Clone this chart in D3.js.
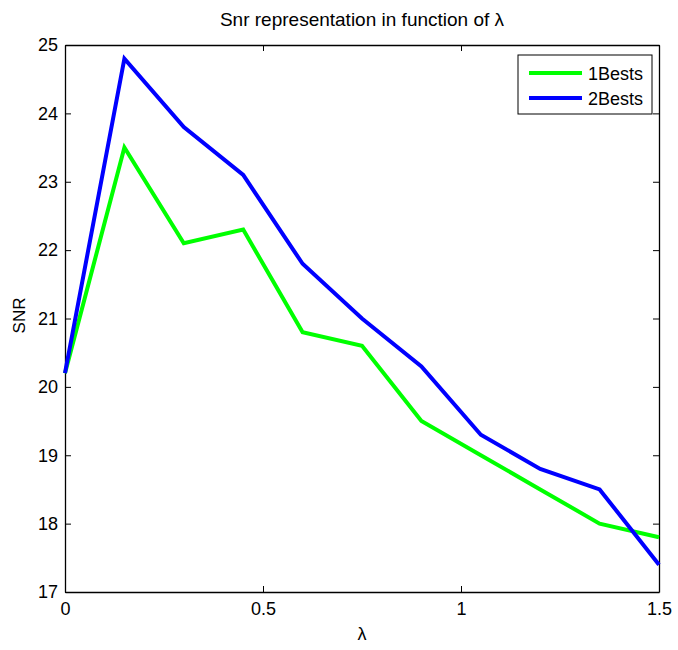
<!DOCTYPE html>
<html lang="en">
<head>
  <meta charset="UTF-8">
  <title>Snr representation</title>
  <script src="https://d3js.org/d3.v7.min.js"></script>
  <style>
    body { margin: 0; background: #fff; }
    text { font-family: "Liberation Sans", Arial, sans-serif; fill: #000; }
  </style>
</head>
<body>
  <div id="chart"></div>
  <script>
    // data
    const lambdas = [0, 0.15, 0.3, 0.45, 0.6, 0.75, 0.9, 1.05, 1.2, 1.35, 1.5];
    const best1 = [20.2, 23.5, 22.1, 22.3, 20.8, 20.6, 19.5, 19.0, 18.5, 18.0, 17.8];
    const best2 = [20.2, 24.8, 23.8, 23.1, 21.8, 21.0, 20.3, 19.3, 18.8, 18.5, 17.4];
    const seriesNames = ['1Bests', '2Bests'];
    const seriesColors = ['#00ff00', '#0000ff'];
    const xTicks = [0, 0.5, 1, 1.5];
    const yTicks = [17, 18, 19, 20, 21, 22, 23, 24, 25];

    const width = 678, height = 650;
    const margin = { top: 45, right: 19, bottom: 58, left: 65 };
    const w = width - margin.left - margin.right;
    const h = height - margin.top - margin.bottom;

    const svg = d3.select('#chart').append('svg')
      .attr('width', width)
      .attr('height', height);

    const g = svg.append('g').attr('transform', `translate(${margin.left},${margin.top})`);

    const x = d3.scaleLinear().domain([0, 1.5]).range([0, w]);
    const y = d3.scaleLinear().domain([17, 25]).range([h, 0]);

    // axes, MATLAB style: ticks inside on all four sides
    const tickLen = 6;
    g.append('g').attr('transform', `translate(0,${h})`)
      .call(d3.axisBottom(x).tickValues(xTicks).tickFormat(d3.format('')).tickSizeInner(-tickLen).tickSizeOuter(0).tickPadding(10));
    g.append('g')
      .call(d3.axisLeft(y).tickValues(yTicks).tickSizeInner(-tickLen).tickSizeOuter(0).tickPadding(7));
    g.append('g')
      .call(d3.axisTop(x).tickValues(xTicks).tickFormat('').tickSizeInner(-tickLen).tickSizeOuter(0));
    g.append('g').attr('transform', `translate(${w},0)`)
      .call(d3.axisRight(y).tickValues(yTicks).tickFormat('').tickSizeInner(-tickLen).tickSizeOuter(0));

    g.selectAll('.domain').attr('stroke', '#000').attr('stroke-width', 1.3);
    g.selectAll('.tick line').attr('stroke', '#000').attr('stroke-width', 1);
    g.selectAll('.tick text').attr('font-size', 18).attr('fill', '#000')
      .attr('font-family', '"Liberation Sans", Arial, sans-serif');

    // lines
    const line = d3.line().x((d, i) => x(lambdas[i])).y(d => y(d));
    [best1, best2].forEach((vals, k) => {
      g.append('path')
        .datum(vals)
        .attr('fill', 'none')
        .attr('stroke', seriesColors[k])
        .attr('stroke-width', 4)
        .attr('stroke-linejoin', 'miter')
        .attr('d', line);
    });

    // title and labels
    svg.append('text')
      .attr('x', margin.left + w / 2)
      .attr('y', 26)
      .attr('text-anchor', 'middle')
      .attr('font-size', 19)
      .text('Snr representation in function of λ');

    svg.append('text')
      .attr('x', margin.left + w / 2)
      .attr('y', 640)
      .attr('text-anchor', 'middle')
      .attr('font-size', 18)
      .text('λ');

    svg.append('text')
      .attr('transform', `translate(25,${margin.top + h / 2 - 3}) rotate(-90)`)
      .attr('text-anchor', 'middle')
      .attr('font-size', 17)
      .text('SNR');

    // legend
    const lg = svg.append('g').attr('transform', 'translate(518,55)');
    lg.append('rect')
      .attr('width', 134).attr('height', 59)
      .attr('fill', '#fff').attr('stroke', '#000').attr('stroke-width', 1);
    seriesNames.forEach((name, k) => {
      const ry = 18 + k * 25;
      lg.append('line')
        .attr('x1', 11).attr('x2', 64).attr('y1', ry).attr('y2', ry)
        .attr('stroke', seriesColors[k]).attr('stroke-width', 4);
      lg.append('text')
        .attr('x', 70).attr('y', ry + 7)
        .attr('font-size', 18)
        .text(name);
    });
  </script>
</body>
</html>
